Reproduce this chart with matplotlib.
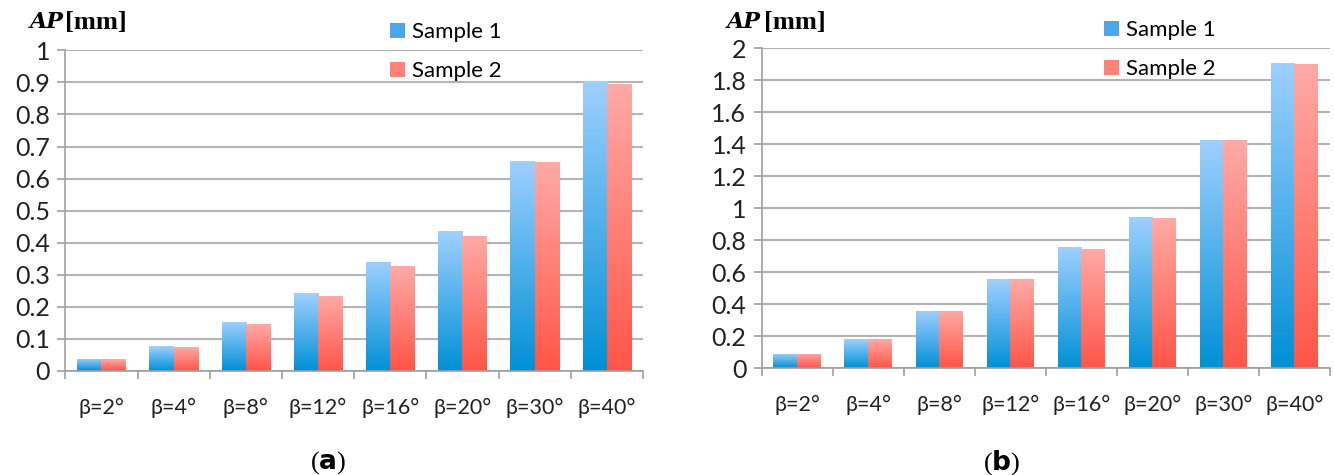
import numpy as np
import matplotlib
matplotlib.use("Agg")
import matplotlib.pyplot as plt
from matplotlib.colors import LinearSegmentedColormap
from matplotlib.patches import Patch

# data
categories = ["β=2°", "β=4°", "β=8°", "β=12°", "β=16°", "β=20°", "β=30°", "β=40°"]
series_names = ["Sample 1", "Sample 2"]
a_sample1 = [0.038, 0.077, 0.153, 0.243, 0.340, 0.436, 0.655, 0.905]
a_sample2 = [0.037, 0.074, 0.148, 0.235, 0.328, 0.420, 0.652, 0.895]
b_sample1 = [0.090, 0.180, 0.360, 0.555, 0.755, 0.945, 1.425, 1.910]
b_sample2 = [0.090, 0.180, 0.360, 0.555, 0.745, 0.940, 1.430, 1.905]
a_ticks = [0, 0.1, 0.2, 0.3, 0.4, 0.5, 0.6, 0.7, 0.8, 0.9, 1]
b_ticks = [0, 0.2, 0.4, 0.6, 0.8, 1, 1.2, 1.4, 1.6, 1.8, 2]

blue_cm = LinearSegmentedColormap.from_list("b", ["#0090d6", "#9fd0ff"])
red_cm = LinearSegmentedColormap.from_list("r", ["#ff5546", "#ffaaa7"])
grad = np.linspace(0, 1, 256).reshape(-1, 1)

plt.rcParams['font.family'] = ['Lato', 'DejaVu Sans']

fig = plt.figure(figsize=(13.34, 4.75), dpi=100)
ax_a = fig.add_axes([0.049, 0.219, 0.433, 0.675])
ax_b = fig.add_axes([0.571, 0.225, 0.426, 0.673])


def draw_panel(ax, s1, s2, ticks, leg_x):
    x = np.arange(len(categories))
    w = 0.335
    for vals, off, cm in ((s1, -w / 2, blue_cm), (s2, w / 2, red_cm)):
        bars = ax.bar(x + off, vals, w, color="none", zorder=2)
        for b in bars:
            x0, y0 = b.get_x(), b.get_y()
            im = ax.imshow(grad, cmap=cm, origin="lower", aspect="auto",
                           extent=[x0, x0 + b.get_width(), y0, y0 + b.get_height()],
                           zorder=2)
            im.set_clip_path(b)
    ax.set_xlim(-0.5, len(categories) - 0.5)
    ax.set_ylim(0, ticks[-1])
    ax.set_yticks(ticks)
    ax.set_yticklabels([("%g" % t) for t in ticks], fontsize=18, color="#222222")
    ax.set_xticks(x)
    ax.set_xticklabels(categories, fontsize=15.5, color="#222222")
    ax.set_xticks(np.arange(len(categories) + 1) - 0.5, minor=True)
    ax.tick_params(axis="x", which="major", length=0, pad=19)
    ax.tick_params(axis="x", which="minor", length=6, color="#a0a0a0", width=1.2)
    ax.tick_params(axis="y", length=6, color="#a0a0a0", width=1.2, pad=5)
    ax.grid(axis="y", color="#b4b4b4", linewidth=1.5, zorder=0)
    ax.set_axisbelow(True)
    for side in ("top", "right"):
        ax.spines[side].set_visible(False)
    for side in ("left", "bottom"):
        ax.spines[side].set_color("#a0a0a0")
        ax.spines[side].set_linewidth(1.2)
    handles = [Patch(facecolor="#4aa8ea"), Patch(facecolor="#ff8278")]
    ax.legend(handles, series_names, loc="upper left", frameon=False,
              fontsize=16, handlelength=0.7, handleheight=0.7,
              handletextpad=0.3, labelspacing=0.85,
              bbox_to_anchor=(leg_x, 1.15))


draw_panel(ax_a, a_sample1, a_sample2, a_ticks, 0.527)
draw_panel(ax_b, b_sample1, b_sample2, b_ticks, 0.567)

# axis titles above the y axes
for xa, xm in ((0.022, 0.049), (0.545, 0.573)):
    fig.text(xa, 0.953, "AP", family="DejaVu Serif", fontstyle="italic",
             fontweight="bold", fontsize=16, va="center")
    fig.text(xm, 0.953, "[mm]", family="Liberation Serif", fontweight="bold",
             fontsize=19, va="center")

# panel captions
for xc, lab in ((0.246, "a"), (0.751, "b")):
    fig.text(xc, 0.027, "(" + r"$\mathbf{" + lab + "}$" + ")",
             family="Liberation Serif", fontsize=19, ha="center", va="center")

fig.savefig("out.png", dpi=100)
